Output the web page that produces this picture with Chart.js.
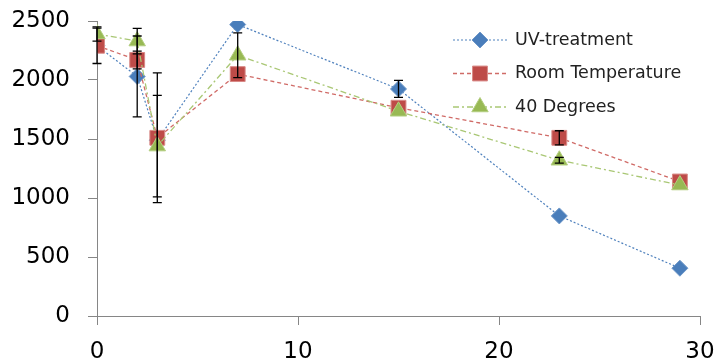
<!DOCTYPE html>
<html>
<head>
<meta charset="utf-8">
<script src="https://cdn.jsdelivr.net/npm/chart.js@4/dist/chart.umd.min.js"></script>
<style>
  html, body { margin: 0; padding: 0; background: #fff; }
  #wrap { width: 719px; height: 360px; }
</style>
</head>
<body>
<div id="wrap"><canvas id="chart" width="719" height="360"></canvas></div>
<script>
// days after start
const days = [0, 2, 3, 7, 15, 23, 29];

// series values
const uvTreatment = [2290, 2030, 1490, 2470, 1924, 848, 405];
const roomTemp    = [2290, 2170, 1510, 2050, 1765, 1510, 1140];
const degrees40   = [2390, 2330, 1440, 2210, 1735, 1320, 1110];

// error bar half-widths (0 = none visible)
const uvErr   = [150, 343, 0, 0, 72, 0, 0];
const roomErr = [0, 75, 550, 0, 0, 60, 0];
const degErr  = [60, 108, 430, 190, 0, 25, 0];

const xTicks = [0, 10, 20, 30];
const yTicks = [0, 500, 1000, 1500, 2000, 2500];

const FONT = "'DejaVu Sans', 'Open Sans', sans-serif";

const pts = (ys) => ys.map((y, i) => ({ x: days[i], y }));

// draws error bars with the scales
const errorBars = {
  id: 'errorBars',
  afterDatasetsDraw(chart) {
    const { ctx, scales: { x, y } } = chart;
    ctx.save();
    ctx.strokeStyle = '#000';
    ctx.lineWidth = 1.3;
    chart.data.datasets.forEach(ds => {
      ds.data.forEach((p, i) => {
        const e = ds.errors[i];
        if (!e) return;
        const px = x.getPixelForValue(p.x);
        const top = y.getPixelForValue(p.y + e);
        const bot = y.getPixelForValue(p.y - e);
        ctx.beginPath();
        ctx.moveTo(px, top); ctx.lineTo(px, bot);
        ctx.moveTo(px - 4.5, top); ctx.lineTo(px + 4.5, top);
        ctx.moveTo(px - 4.5, bot); ctx.lineTo(px + 4.5, bot);
        ctx.stroke();
      });
    });
    ctx.restore();
  }
};

// legend inside the plot, right side
const sideLegend = {
  id: 'sideLegend',
  afterDraw(chart) {
    const ctx = chart.ctx;
    ctx.save();
    chart.data.datasets.forEach((ds, i) => {
      const cy = 40 + 33.5 * i;
      ctx.strokeStyle = ds.borderColor;
      ctx.lineWidth = ds.borderWidth;
      ctx.setLineDash(ds.borderDash);
      ctx.beginPath();
      ctx.moveTo(453, cy); ctx.lineTo(507, cy);
      ctx.stroke();
      ctx.setLineDash([]);
      ctx.fillStyle = ds.pointBackgroundColor;
      ctx.strokeStyle = ds.pointBorderColor;
      ctx.lineWidth = 1;
      Chart.helpers.drawPoint(ctx, {
        pointStyle: ds.pointStyle, radius: ds.pointRadius, borderWidth: 1, rotation: 0
      }, 480, cy);
      ctx.fillStyle = '#222';
      ctx.font = '17.5px ' + FONT;
      ctx.textBaseline = 'middle';
      ctx.fillText(ds.label, 515, cy);
    });
    ctx.restore();
  }
};

new Chart(document.getElementById('chart'), {
  type: 'scatter',
  data: {
    datasets: [
      {
        label: 'UV-treatment',
        data: pts(uvTreatment),
        errors: uvErr,
        showLine: true,
        borderColor: '#4F81BD',
        borderWidth: 1.2,
        borderDash: [2, 2],
        pointStyle: 'rectRot',
        pointRadius: 8,
        pointBackgroundColor: '#4A7EBB',
        pointBorderColor: '#6E97C8',
        pointBorderWidth: 1,
        order: 2
      },
      {
        label: 'Room Temperature',
        data: pts(roomTemp),
        errors: roomErr,
        showLine: true,
        borderColor: '#D06B67',
        borderWidth: 1.3,
        borderDash: [4, 3],
        pointStyle: 'rect',
        pointRadius: 10.5,
        pointBackgroundColor: '#BE4B48',
        pointBorderColor: '#D98A87',
        pointBorderWidth: 1,
        order: 1
      },
      {
        label: '40 Degrees',
        data: pts(degrees40),
        errors: degErr,
        showLine: true,
        borderColor: '#A9C774',
        borderWidth: 1.3,
        borderDash: [6, 3, 2, 3],
        pointStyle: 'triangle',
        pointRadius: 9.5,
        pointBackgroundColor: '#98B954',
        pointBorderColor: '#B3CE80',
        pointBorderWidth: 1,
        order: 0
      }
    ]
  },
  options: {
    responsive: false,
    devicePixelRatio: 1,
    animation: false,
    layout: { padding: { top: 21, right: 19, left: 0, bottom: 0 } },
    plugins: { legend: { display: false }, tooltip: { enabled: false } },
    scales: {
      x: {
        type: 'linear',
        min: 0, max: 30,
        afterBuildTicks: s => { s.ticks = xTicks.map(v => ({ value: v })); },
        afterFit: s => { s.height = 44; s.paddingLeft = 0; s.paddingRight = 0; },
        grid: { drawOnChartArea: false, color: '#868686', tickLength: 9 },
        border: { color: '#868686', width: 1 },
        ticks: { color: '#000', font: { family: FONT, size: 23 }, padding: 13, callback: v => String(v) }
      },
      y: {
        min: 0, max: 2500,
        afterBuildTicks: s => { s.ticks = yTicks.map(v => ({ value: v })); },
        afterFit: s => { s.width = 97; s.paddingTop = 0; s.paddingBottom = 0; },
        grid: { drawOnChartArea: false, color: '#868686', tickLength: 9 },
        border: { color: '#868686', width: 1 },
        ticks: { color: '#000', font: { family: FONT, size: 23 }, padding: 18, callback: v => String(v) }
      }
    }
  },
  plugins: [errorBars, sideLegend]
});
</script>
</body>
</html>
